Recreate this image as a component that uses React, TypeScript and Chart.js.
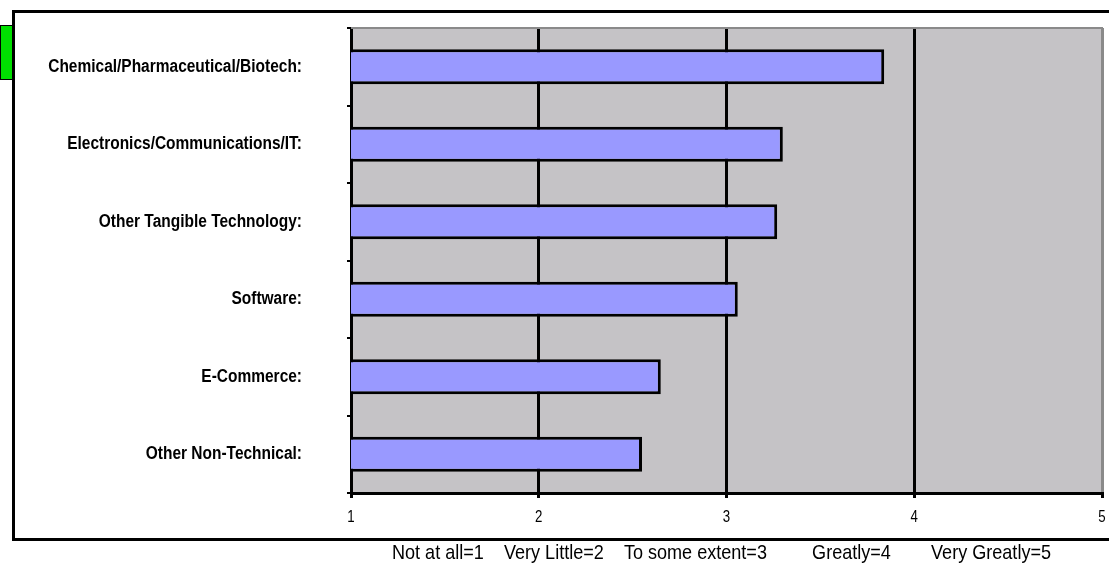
import React, { useEffect, useRef } from "react";
import { Chart, registerables } from "chart.js";

Chart.register(...registerables);

const categories = [
  "Chemical/Pharmaceutical/Biotech:",
  "Electronics/Communications/IT:",
  "Other Tangible Technology:",
  "Software:",
  "E-Commerce:",
  "Other Non-Technical:",
];
const values = [3.84, 3.3, 3.27, 3.06, 2.65, 2.55];
const xTickValues = [1, 2, 3, 4, 5];
const caption =
  "Not at all=1    Very Little=2    To some extent=3         Greatly=4        Very Greatly=5";

const FONT = '"Liberation Sans", Arial, sans-serif';

function drawCondensed(
  ctx: CanvasRenderingContext2D,
  text: string,
  x: number,
  y: number,
  align: CanvasTextAlign,
  font: string,
  sx: number
) {
  ctx.save();
  ctx.translate(x, y);
  ctx.scale(sx, 1);
  ctx.font = `${font} ${FONT}`;
  ctx.fillStyle = "#000";
  ctx.textAlign = align;
  ctx.textBaseline = "middle";
  ctx.fillText(text, 0, 0);
  ctx.restore();
}

const decorPlugin = {
  id: "decor",
  beforeDraw(chart: any) {
    const { ctx, chartArea } = chart;
    ctx.save();
    ctx.fillStyle = "#ffffff";
    ctx.fillRect(0, 0, chart.width, chart.height);
    ctx.fillStyle = "#c5c3c6";
    ctx.fillRect(
      chartArea.left,
      chartArea.top,
      chartArea.right - chartArea.left,
      chartArea.bottom - chartArea.top
    );
    ctx.strokeStyle = "#000";
    ctx.lineWidth = 3;
    ctx.beginPath();
    ctx.moveTo(chart.width + 5, 11.5);
    ctx.lineTo(13.5, 11.5);
    ctx.lineTo(13.5, 539.5);
    ctx.lineTo(chart.width + 5, 539.5);
    ctx.stroke();
    ctx.fillStyle = "#00e000";
    ctx.fillRect(0, 25, 12, 54);
    ctx.lineWidth = 1;
    ctx.strokeRect(0.5, 25.5, 12, 54);
    ctx.restore();
  },
  afterDraw(chart: any) {
    const { ctx, chartArea, scales } = chart;
    ctx.save();
    ctx.strokeStyle = "#8a8a8a";
    ctx.lineWidth = 2;
    ctx.beginPath();
    ctx.moveTo(chartArea.left, chartArea.top);
    ctx.lineTo(chartArea.right, chartArea.top);
    ctx.lineTo(chartArea.right, chartArea.bottom - 1);
    ctx.stroke();
    ctx.restore();

    const yScale = scales.y;
    categories.forEach((label, i) => {
      const y = yScale.getPixelForValue(i);
      drawCondensed(ctx, label, chartArea.left - 49, y, "right", "bold 18px", 0.86);
    });
    const xScale = scales.x;
    xTickValues.forEach((v) => {
      const x = xScale.getPixelForValue(v);
      drawCondensed(ctx, String(v), x, chartArea.bottom + 24, "center", "17px", 0.78);
    });
    drawCondensed(ctx, caption, chartArea.left + 41, 553, "left", "21px", 0.86);
  },
};

export default function App() {
  const canvasRef = useRef<HTMLCanvasElement | null>(null);

  useEffect(() => {
    const canvas = canvasRef.current;
    if (!canvas) return;
    const chart = new Chart(canvas, {
      type: "bar",
      data: {
        labels: categories,
        datasets: [
          {
            data: values,
            backgroundColor: "#9999ff",
            borderColor: "#000000",
            borderWidth: 3,
            borderSkipped: false,
            barPercentage: 0.45,
            categoryPercentage: 1,
          },
        ],
      },
      plugins: [decorPlugin],
      options: {
        indexAxis: "y",
        animation: false,
        responsive: false,
        devicePixelRatio: 1,
        layout: { padding: { left: 0, top: 28, right: 7, bottom: 0 } },
        plugins: {
          legend: { display: false },
          tooltip: { enabled: false },
          title: { display: false },
        },
        scales: {
          x: {
            type: "linear",
            min: xTickValues[0],
            max: xTickValues[xTickValues.length - 1],
            afterFit: (scale: any) => {
              scale.height = 72;
            },
            ticks: { stepSize: 1, display: false },
            grid: {
              color: (c: any) =>
                c.tick && c.tick.value === xTickValues[xTickValues.length - 1]
                  ? "#8a8a8a"
                  : "#000000",
              tickColor: "#000000",
              lineWidth: 3,
              tickLength: 5,
              drawOnChartArea: true,
            },
            border: { display: true, color: "#000", width: 3 },
          },
          y: {
            afterFit: (scale: any) => {
              scale.width = 351;
            },
            ticks: { display: false },
            grid: {
              display: true,
              drawOnChartArea: false,
              drawTicks: true,
              tickLength: 4,
              color: "#000",
              lineWidth: 2,
            },
            border: { display: true, color: "#000", width: 2 },
          },
        },
      },
    });
    return () => chart.destroy();
  }, []);

  return (
    <div
      style={{
        position: "absolute",
        left: 0,
        top: 0,
        width: 1109,
        height: 565,
        background: "#fff",
      }}
    >
      <canvas ref={canvasRef} width={1109} height={565} />
    </div>
  );
}
